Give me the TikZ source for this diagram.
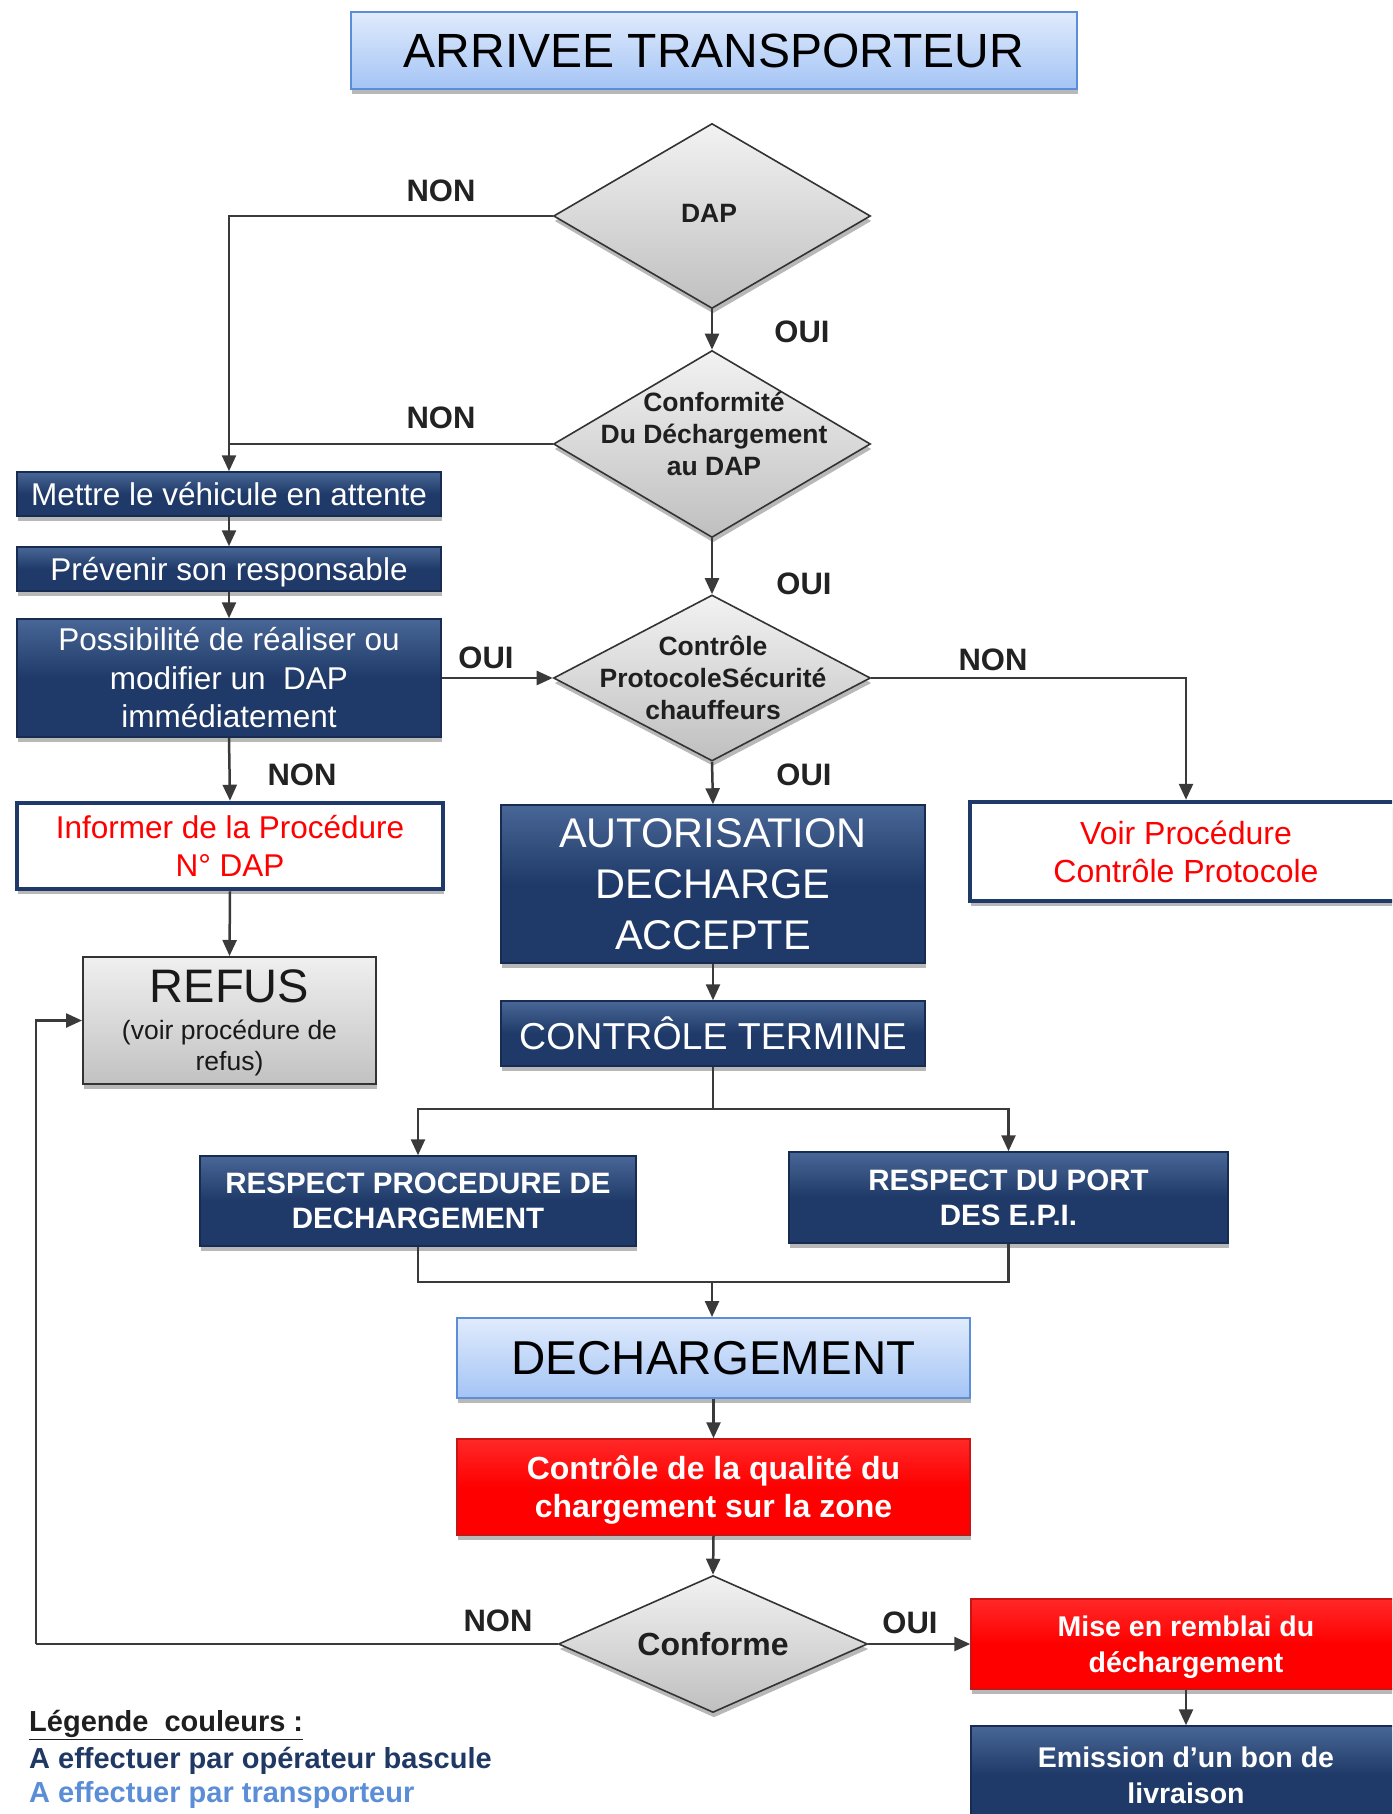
\documentclass[tikz,border=0pt]{standalone}
\usepackage{fontspec}
\setmainfont{Liberation Sans}
\usetikzlibrary{shapes.geometric,arrows.meta,shadows,calc}
\definecolor{navy}{RGB}{31,58,104}
\definecolor{navytop}{RGB}{72,102,150}
\definecolor{navyborder}{RGB}{24,44,82}
\definecolor{lbtop}{RGB}{224,235,252}
\definecolor{lbbot}{RGB}{164,196,245}
\definecolor{lbborder}{RGB}{91,142,214}
\definecolor{linec}{RGB}{58,58,58}
\definecolor{redfill}{RGB}{255,0,0}
\definecolor{redtop}{RGB}{255,40,40}
\definecolor{redborder}{RGB}{200,20,20}
\definecolor{legnavy}{RGB}{31,56,100}
\definecolor{legblue}{RGB}{91,142,214}
\definecolor{labelc}{RGB}{34,34,34}
\newcommand{\fsz}[2]{\fontsize{#1}{#2}\selectfont}
\begin{document}
\begin{tikzpicture}[x=1pt,y=-1pt,
  shadowed/.style={drop shadow={shadow xshift=1pt,shadow yshift=-5pt,opacity=0.28,fill=black}},
  box/.style={rectangle, inner sep=0pt, align=center, shadowed},
  navybox/.style={box, top color=navytop, bottom color=navy, middle color=navy, draw=navyborder, line width=1.5pt, text=white},
  lightbox/.style={box, top color=lbtop, bottom color=lbbot, draw=lbborder, line width=2pt, text=black},
  redbox/.style={box, top color=redtop, bottom color=redfill, middle color=redfill, draw=redborder, line width=1.5pt, text=white},
  whitebox/.style={box, fill=white, draw=navy, line width=4.5pt, text=redfill},
  greybox/.style={box, top color=gray!12, bottom color=gray!48, draw=black!80, line width=2pt, text=black!90},
  decision/.style={diamond, inner sep=0pt, top color=gray!10, bottom color=gray!50, draw=black!80, line width=1.6pt, shadowed},
  dtext/.style={align=center, inner sep=0pt, text=black!88, font=\bfseries\fsz{26.5}{32}},
  lbl/.style={inner sep=0pt, text=labelc, font=\bfseries\fsz{31}{36}},
  conn/.style={draw=linec, line width=2.5pt},
  arr/.style={conn, -{Triangle[length=16pt,width=14pt]}},
  legend/.style={anchor=west, inner sep=0pt, font=\bfseries\fsz{29}{34}},
  oneline/.style={text height=28pt, text depth=6pt}
]
\useasboundingbox (0,0) rectangle (1392,1814);
\clip (0,0) rectangle (1392,1814);

% title
\node[lightbox, minimum width=726, minimum height=77, font=\fsz{48}{52}] (title) at (714,50.5) {ARRIVEE TRANSPORTEUR};

% decisions
\node[decision, minimum width=317, minimum height=185] (dap) at (712,216) {};
\node[dtext] (daptxt) at (709,213) {DAP};
\node[decision, minimum width=317, minimum height=187] (conf) at (712,444) {};
\node[dtext] (conftxt) at (714,434) {Conformité\\Du Déchargement\\au DAP};
\node[decision, minimum width=317, minimum height=166] (ctrl) at (712,678) {};
\node[dtext] (ctrltxt) at (713,678) {Contrôle\\ProtocoleSécurité\\chauffeurs};

% left column
\node[navybox, oneline, minimum width=424, minimum height=44, font=\fsz{31.5}{38}] (mettre) at (229,494) {Mettre le véhicule en attente};
\node[navybox, oneline, minimum width=424, minimum height=44, font=\fsz{31.5}{38}] (prevenir) at (229,569) {Prévenir son responsable};
\node[navybox, minimum width=424, minimum height=118, font=\fsz{31.5}{38.5}] (possib) at (229,678) {Possibilité de réaliser ou\\modifier un\ \ DAP\\immédiatement};
\node[whitebox, minimum width=426, minimum height=86, font=\fsz{31.5}{38}] (informer) at (230,846) {Informer de la Procédure\\N° DAP};
\node[greybox, text depth=-8pt, minimum width=293, minimum height=127, font=\fsz{26.5}{31}] (refus) at (229.5,1020.5) {\fsz{47}{46}REFUS\\[6pt]\fsz{26.5}{31}(voir procédure de\\refus)};

% centre column
\node[navybox, minimum width=424, minimum height=158, font=\fsz{41.5}{51}] (autor) at (713,884) {AUTORISATION\\DECHARGE\\ACCEPTE};
\node[navybox, minimum width=424, minimum height=65, font=\fsz{37.5}{42}] (termine) at (713,1033.5) {CONTRÔLE TERMINE};
\node[whitebox, minimum width=432, minimum height=99, font=\fsz{32}{38}] (voir) at (1186,851.5) {Voir Procédure\\Contrôle Protocole};
\node[navybox, minimum width=436, minimum height=90, font=\bfseries\fsz{29.5}{35}] (proc) at (418,1201) {RESPECT PROCEDURE DE\\DECHARGEMENT};
\node[navybox, minimum width=439, minimum height=91, font=\bfseries\fsz{29.5}{35}] (port) at (1008.5,1197.5) {RESPECT DU PORT\\DES E.P.I.};
\node[lightbox, minimum width=513, minimum height=80, font=\fsz{47.5}{50}] (dech) at (713.5,1358) {DECHARGEMENT};
\node[redbox, text depth=0pt, minimum width=513, minimum height=96, font=\bfseries\fsz{32}{38}] (qual) at (713.5,1487) {Contrôle de la qualité du\\chargement sur la zone};
\node[decision, minimum width=309, minimum height=137] (conforme) at (713,1644) {};
\node[dtext, font=\bfseries\fsz{32}{36}] (conformetxt) at (713,1644) {Conforme};
\node[redbox, text depth=0pt, minimum width=430, minimum height=90, font=\bfseries\fsz{28.5}{36}] (mise) at (1186,1644) {Mise en remblai du\\déchargement};
\node[navybox, minimum width=430, minimum height=98, font=\bfseries\fsz{28.5}{36}] (emis) at (1186,1775) {Emission d’un bon de\\livraison};

% coordinates
\coordinate (fork) at (713,1109);
\coordinate (merge) at (712,1282);
\coordinate (loopc) at (36,1644);

% connectors
\draw[arr] (dap.west) -| (mettre.north);
\draw[conn] (conf.west) -- (conf.west -| mettre.north);
\draw[arr] (dap.south) -- (conf.north);
\draw[arr] (conf.south) -- (ctrl.north);
\draw[arr] (mettre.south) -- (prevenir.north);
\draw[arr] (prevenir.south) -- (possib.north);
\draw[arr] (possib.east) -- (ctrl.west);
\draw[arr] (ctrl.east) -| (voir.north);
\draw[arr] (ctrl.south) -- (autor.north);
\draw[arr] (possib.south) -- (informer.north);
\draw[arr] (informer.south) -- (refus.north);
\draw[arr] (autor.south) -- (termine.north);
\draw[conn] (termine.south) -- (fork);
\draw[arr] (fork) -| (proc.north);
\draw[arr] (fork) -| (port.north);
\draw[conn] (proc.south) |- (merge);
\draw[conn] (port.south) |- (merge);
\draw[arr] (merge) -- (merge |- dech.north);
\draw[arr] (dech.south) -- (qual.north);
\draw[arr] (qual.south) -- (conforme.north);
\draw[conn] (conforme.west) -- (loopc);
\draw[arr] (loopc) |- (refus.west);
\draw[arr] (conforme.east) -- (mise.west);
\draw[arr] (mise.south) -- (emis.north);

% labels
\node[lbl] (non1) at (441,191) {NON};
\node[lbl] (non2) at (441,418) {NON};
\node[lbl] (oui1) at (802,332) {OUI};
\node[lbl] (oui2) at (804,584) {OUI};
\node[lbl] (oui3) at (486,658) {OUI};
\node[lbl] (non3) at (993,660) {NON};
\node[lbl] (oui4) at (804,775) {OUI};
\node[lbl] (non4) at (302,775) {NON};
\node[lbl] (non5) at (498,1621) {NON};
\node[lbl] (oui5) at (910,1623) {OUI};

% legend
\node[legend, text=black!88] (leg0) at (29,1725) {\underline{Légende\ \ couleurs :}};
\node[legend, text=legnavy] (leg1) at (29,1761) {A effectuer par opérateur bascule};
\node[legend, text=legblue] (leg2) at (29,1795) {A effectuer par transporteur};
\end{tikzpicture}
\end{document}
